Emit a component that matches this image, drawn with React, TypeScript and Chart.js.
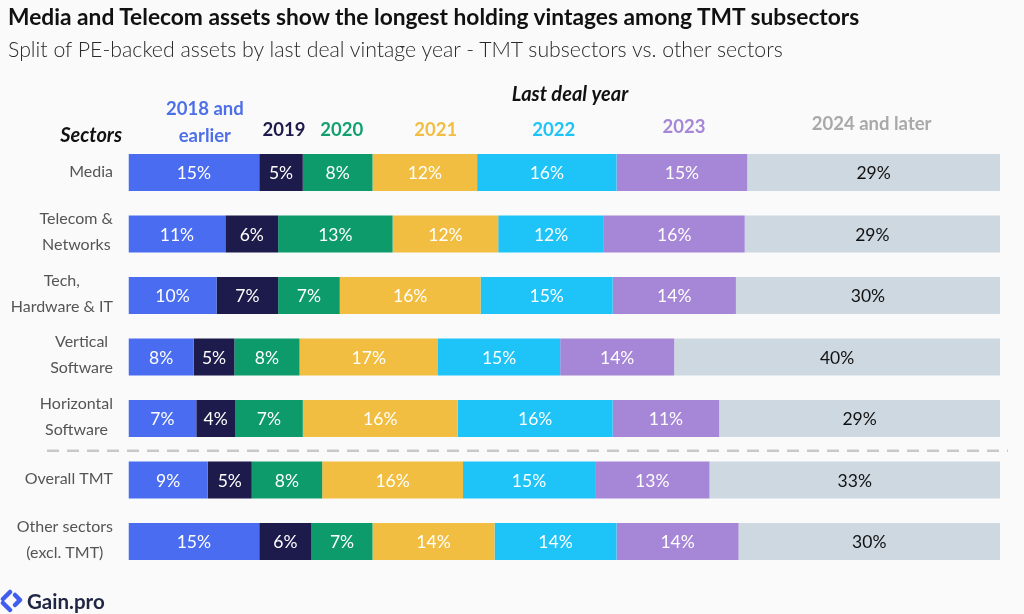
import React, { useEffect, useRef } from "react";
import { Chart, registerables } from "chart.js";

Chart.register(...registerables);

const FONT = "Lato, 'Open Sans', sans-serif";

// Sector rows (multi-line labels)
const sectors: string[][] = [
  ["Media"],
  ["Telecom &", "Networks"],
  ["Tech,", "Hardware & IT"],
  ["Vertical", "Software"],
  ["Horizontal", "Software"],
  ["Overall TMT"],
  ["Other sectors", "(excl. TMT)"],
];

// Last deal vintage buckets
const vintages: string[][] = [
  ["2018 and", "earlier"],
  ["2019"],
  ["2020"],
  ["2021"],
  ["2022"],
  ["2023"],
  ["2024 and later"],
];

// Share of PE-backed assets per vintage (%), one value per sector row
const v2018 = [15, 11, 10, 8, 7, 9, 15];
const v2019 = [5, 6, 7, 5, 4, 5, 6];
const v2020 = [8, 13, 7, 8, 7, 8, 7];
const v2021 = [12, 12, 16, 17, 16, 16, 14];
const v2022 = [16, 12, 15, 15, 16, 15, 14];
const v2023 = [15, 16, 14, 14, 11, 13, 14];
const v2024 = [29, 29, 30, 40, 29, 33, 30];

const series = [v2018, v2019, v2020, v2021, v2022, v2023, v2024];

const barColors = ["#4a6cf0", "#1c1b4b", "#0e9b6c", "#f1be42", "#1ec4f7", "#a686d6", "#cdd8e1"];
const headerColors = ["#4d6fe8", "#1c1b4b", "#12a06f", "#f1be42", "#1ec4f7", "#a686d6", "#a9a9a9"];
const labelColors = ["#ffffff", "#ffffff", "#ffffff", "#ffffff", "#ffffff", "#ffffff", "#111111"];
// vertical centre and horizontal nudge of each column heading
const headerY = [0, 130, 130, 130, 130, 127.5, 124.5];
const headerDx = [11, 3, 4, 11, 7, 2, -2];

// each row is shown as a 100% stacked bar
const rowTotals = sectors.map((_, i) => series.reduce((s, arr) => s + arr[i], 0));

const overlayPlugin = {
  id: "overlay",
  afterDatasetsDraw(chart: any) {
    const ctx = chart.ctx;
    ctx.save();
    ctx.textAlign = "center";
    ctx.textBaseline = "middle";
    ctx.font = `400 17.5px ${FONT}`;
    chart.data.datasets.forEach((ds: any, di: number) => {
      const meta = chart.getDatasetMeta(di);
      meta.data.forEach((el: any, i: number) => {
        const cx = (el.x + el.base) / 2;
        ctx.fillStyle = labelColors[di];
        ctx.fillText(`${series[di][i]}%`, cx, el.y + 1);
      });
    });
    ctx.restore();
  },
  afterDraw(chart: any) {
    const ctx = chart.ctx;
    const area = chart.chartArea;
    const yScale = chart.scales.y;
    ctx.save();

    // sector labels: block right-aligned, lines centred within block
    ctx.font = `400 16px ${FONT}`;
    ctx.fillStyle = "#555555";
    ctx.textBaseline = "middle";
    const rightEdge = 113;
    sectors.forEach((lines, i) => {
      const cy = yScale.getPixelForValue(i);
      const w = Math.max(...lines.map((l) => ctx.measureText(l).width));
      const mid = rightEdge - w / 2;
      ctx.textAlign = "center";
      if (lines.length === 1) {
        ctx.fillText(lines[0], mid, cy - 1);
      } else {
        ctx.fillText(lines[0], mid, cy - 15);
        ctx.fillText(lines[1], mid, cy + 11);
      }
    });

    // column headings above the first row
    ctx.font = `700 18.5px ${FONT}`;
    ctx.textAlign = "center";
    const first = chart.data.datasets.map((_: any, di: number) => chart.getDatasetMeta(di).data[0]);
    vintages.forEach((lines, di) => {
      const el = first[di];
      const cx = (el.x + el.base) / 2 + headerDx[di];
      ctx.fillStyle = headerColors[di];
      if (lines.length === 2) {
        ctx.fillText(lines[0], cx, 109.5);
        ctx.fillText(lines[1], cx, 136.5);
      } else {
        ctx.fillText(lines[0], cx, headerY[di]);
      }
    });

    ctx.font = `italic 700 20px ${FONT}`;
    ctx.fillStyle = "#111111";
    ctx.textAlign = "right";
    ctx.fillText("Sectors", 122, 136);
    ctx.textAlign = "center";
    ctx.fillText("Last deal year", 570, 95);

    // separator between TMT subsectors and aggregates
    const sepY = (yScale.getPixelForValue(4) + yScale.getPixelForValue(5)) / 2 + 1.5;
    ctx.strokeStyle = "#c9c9c9";
    ctx.lineWidth = 2.5;
    ctx.setLineDash([12, 8]);
    ctx.beginPath();
    ctx.moveTo(47, sepY);
    ctx.lineTo(area.right + 8, sepY);
    ctx.stroke();
    ctx.restore();
  },
};

export default function App() {
  const ref = useRef<HTMLCanvasElement>(null);

  useEffect(() => {
    document.body.style.margin = "0";
    const chart = new Chart(ref.current as HTMLCanvasElement, {
      type: "bar",
      data: {
        labels: sectors.map((s) => s.join(" ")),
        datasets: series.map((arr, di) => ({
          label: vintages[di].join(" "),
          data: arr.map((v, i) => (v / rowTotals[i]) * 100),
          backgroundColor: barColors[di],
          borderWidth: 0,
          categoryPercentage: 0.6,
          barPercentage: 1,
        })),
      },
      options: {
        responsive: false,
        animation: false,
        indexAxis: "y",
        layout: { padding: { left: 128.5, right: 24, top: 141.75, bottom: 41.75 } },
        scales: {
          x: { stacked: true, min: 0, max: 100, display: false },
          y: { stacked: true, display: false },
        },
        plugins: {
          legend: { display: false },
          tooltip: { enabled: false },
        },
      },
      plugins: [overlayPlugin],
    } as any);
    return () => chart.destroy();
  }, []);

  return (
    <div
      style={{
        position: "relative",
        width: 1024,
        height: 614,
        background: "#fafafa",
        overflow: "hidden",
        fontFamily: FONT,
      }}
    >
      <canvas ref={ref} width={1024} height={614} style={{ position: "absolute", left: 0, top: 0 }} />
      <div
        style={{
          position: "absolute",
          left: 8,
          top: 6,
          fontSize: 22.75,
          lineHeight: "22.75px",
          fontWeight: 700,
          color: "#111",
          whiteSpace: "nowrap",
        }}
      >
        Media and Telecom assets show the longest holding vintages among TMT subsectors
      </div>
      <div
        style={{
          position: "absolute",
          left: 8,
          top: 39,
          fontSize: 21.3,
          lineHeight: "21.3px",
          fontWeight: 300,
          color: "#2a2a2a",
          whiteSpace: "nowrap",
        }}
      >
        Split of PE-backed assets by last deal vintage year - TMT subsectors vs. other sectors
      </div>
      <div style={{ position: "absolute", left: 0, top: 589, display: "flex", alignItems: "center" }}>
        <svg width="24" height="24" viewBox="0 0 24 24">
          <path d="M10 3 L3 10" stroke="#3f5ef0" strokeWidth="4.5" strokeLinecap="round" />
          <path d="M3 14 L10 21" stroke="#3f5ef0" strokeWidth="4.5" strokeLinecap="round" />
          <path d="M15 6 L20 11 L15 16" stroke="#3f5ef0" strokeWidth="4.5" fill="none" strokeLinecap="round" strokeLinejoin="round" />
        </svg>
        <span style={{ marginLeft: 3, fontSize: 20.5, fontWeight: 700, color: "#1f2543" }}>Gain.pro</span>
      </div>
    </div>
  );
}
